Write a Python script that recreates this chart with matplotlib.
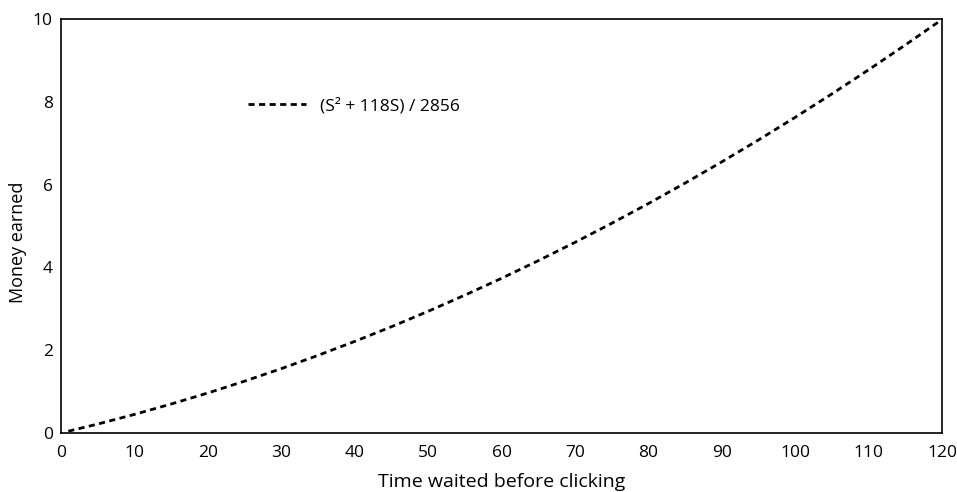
import matplotlib.pyplot as plt

# values
seconds = [1, 5, 10, 15, 20, 25, 30, 35, 40, 45, 50, 55, 60,
           65, 70, 75, 80, 85, 90, 95, 100, 105, 110, 115, 120]
money = [0.042, 0.215, 0.448, 0.699, 0.966, 1.252, 1.555, 1.875, 2.213,
         2.568, 2.941, 3.332, 3.739, 4.165, 4.608, 5.068, 5.546, 6.042,
         6.555, 7.085, 7.633, 8.199, 8.782, 9.382, 10.0]
x_ticks = [0, 10, 20, 30, 40, 50, 60, 70, 80, 90, 100, 110, 120]
y_ticks = [0, 2, 4, 6, 8, 10]

plt.rcParams['font.family'] = ['Open Sans', 'DejaVu Sans']

fig = plt.figure(figsize=(9.57, 4.92), dpi=100)
ax = fig.add_axes([0.0637, 0.12, 0.921, 0.841])

ax.plot(seconds, money, color='black', linestyle=(0, (2.2, 1.6)), linewidth=2,
        label='(S² + 118S) / 2856')
ax.set_xlim(0, 120)
ax.set_ylim(0, 10)
ax.set_xticks(x_ticks)
ax.set_yticks(y_ticks)
ax.tick_params(length=0, labelsize=12.5)
ax.tick_params(axis='x', pad=9)
ax.tick_params(axis='y', pad=6)
for s in ax.spines.values():
    s.set_linewidth(1.2)

ax.set_xlabel('Time waited before clicking', fontsize=14, labelpad=8)
ax.set_ylabel('Money earned', fontsize=13)
ax.yaxis.set_label_coords(-0.038, 0.46)
ax.legend(loc='center left', bbox_to_anchor=(0.195, 0.79), frameon=False,
          fontsize=12.5, handlelength=3.3)

plt.savefig('out.png')
